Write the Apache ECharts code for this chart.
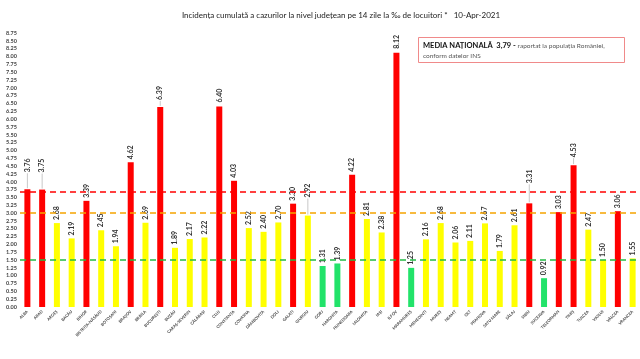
<!DOCTYPE html>
<html><head><meta charset="utf-8">
<script src="https://cdn.jsdelivr.net/npm/echarts@6/dist/echarts.min.js"></script>
<style>html,body{margin:0;padding:0;background:#fff}#c{width:640px;height:359px}</style>
</head><body><div id="c"></div>
<script>
const counties = ["ALBA","ARAD","ARGEȘ","BACĂU","BIHOR","BISTRIȚA-NĂSĂUD","BOTOȘANI","BRAȘOV","BRĂILA","BUCUREȘTI","BUZĂU","CARAȘ-SEVERIN","CĂLĂRAȘI","CLUJ","CONSTANȚA","COVASNA","DÂMBOVIȚA","DOLJ","GALAȚI","GIURGIU","GORJ","HARGHITA","HUNEDOARA","IALOMIȚA","IAȘI","ILFOV","MARAMUREȘ","MEHEDINȚI","MUREȘ","NEAMȚ","OLT","PRAHOVA","SATU MARE","SĂLAJ","SIBIU","SUCEAVA","TELEORMAN","TIMIȘ","TULCEA","VASLUI","VÂLCEA","VRANCEA"];
const incidence = [3.76,3.75,2.68,2.19,3.39,2.45,1.94,4.62,2.69,6.39,1.89,2.17,2.22,6.40,4.03,2.52,2.40,2.70,3.30,2.92,1.31,1.39,4.22,2.81,2.38,8.12,1.25,2.16,2.68,2.06,2.11,2.67,1.79,2.61,3.31,0.92,3.03,4.53,2.47,1.50,3.06,1.55];
const yTicks = {min:0, max:8.75, step:0.25};
const thresholds = {red:3.68, orange:3.0, green:1.5};
const labelGap = {0:17,1:17,9:7,13:4,19:18,34:20,37:8,25:4};
const titleText = "Incidența cumulată a cazurilor la nivel județean pe 14 zile la ‰ de locuitori *   10-Apr-2021";

function barColor(v){ return v > 3 ? '#ff0000' : (v >= 1.5 ? '#ffff00' : '#22e36a'); }

const chart = echarts.init(document.getElementById('c'), null, {renderer:'canvas'});
chart.setOption({
  animation:false,
  title:{text:titleText, left:336, top:6, textAlign:'center',
    textStyle:{fontSize:8, fontWeight:'normal', color:'#222', fontFamily:'Lato'}},
  graphic:[
    {type:'rect', shape:{x:418.5,y:37.5,width:206,height:25}, style:{fill:'#fff', stroke:'#f08a8a', lineWidth:1}},
    {type:'text', left:423, top:42, style:{rich:{b:{fontSize:7.5,fontWeight:'bold',fill:'#111',fontFamily:'Lato'},n:{fontSize:6.5,fill:'#555',fontFamily:'Lato'}},
      text:'{b|MEDIA NAȚIONALĂ  3,79 - }{n|raportat la populația României,}'}},
    {type:'text', left:423, top:52, style:{text:'conform datelor INS', fontSize:6.5, fill:'#555', fontFamily:'Lato'}}
  ],
  grid:{left:20, top:33, width:628, bottom:52},
  xAxis:{type:'category', data:counties,
    axisLine:{show:false}, axisTick:{show:false},
    axisLabel:{interval:0, rotate:45, fontSize:4, color:'#444', fontFamily:'Lato', fontWeight:'bold', margin:4}},
  yAxis:{type:'value', min:yTicks.min, max:yTicks.max, interval:yTicks.step,
    splitLine:{show:false}, axisLine:{show:false}, axisTick:{show:false},
    axisLabel:{fontSize:5.5, color:'#444', fontWeight:'bold', fontFamily:'Lato', margin:3,
      formatter:v=>v.toFixed(2)}},
  series:[{
    type:'bar', barWidth:6,
    data:incidence.map((v,i)=>({value:v, itemStyle:{color:barColor(v)},
      label: labelGap[i] ? {distance:labelGap[i]} : undefined})),
    label:{show:true, position:'top', rotate:90, align:'left', verticalAlign:'middle', distance:3,
      fontSize:7, fontWeight:'bold', color:'#333', fontFamily:'Lato', formatter:p=>p.value.toFixed(2)},
    markLine:{silent:true, symbol:'none', label:{show:false},
      data:[
        {yAxis:thresholds.red, lineStyle:{color:'#ff0000', type:[6,4], width:1.5}},
        {yAxis:thresholds.orange, lineStyle:{color:'#f5a400', type:[6,4], width:1.5}},
        {yAxis:thresholds.green, lineStyle:{color:'#22bb44', type:[6,4], width:1.5}}
      ]}
  },{
    type:'custom', silent:true, z:1,
    data:incidence.map((v,i)=>[i,v]),
    renderItem:function(params, api){
      const i = api.value(0), g = labelGap[i];
      if(!g || g < 6) return null;
      const p = api.coord([i, api.value(1)]);
      return {type:'line', shape:{x1:p[0], y1:p[1]-1, x2:p[0], y2:p[1]-g+1},
        style:{stroke:'#c8c8c8', lineWidth:1}};
    }
  }]
});
</script></body></html>
